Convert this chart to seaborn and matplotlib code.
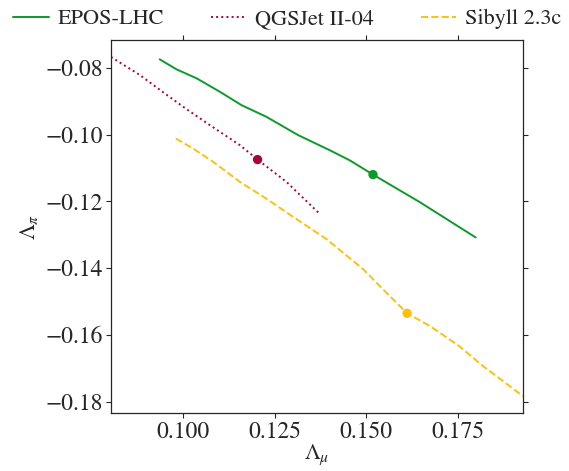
import matplotlib
matplotlib.use("Agg")
import matplotlib.pyplot as plt
import pandas as pd
import seaborn as sns

# curve values
epos_mu = [0.0936, 0.0982, 0.1037, 0.1100, 0.1159, 0.1227, 0.1314, 0.1400, 0.1454, 0.1518, 0.1645, 0.1798]
epos_pi = [-0.0775, -0.0805, -0.0832, -0.0872, -0.0912, -0.0947, -0.1002, -0.1047, -0.1077, -0.1120, -0.1202, -0.1308]

qgs_mu = [0.0803, 0.0882, 0.0941, 0.1000, 0.1073, 0.1155, 0.1203, 0.1282, 0.1373]
qgs_pi = [-0.0768, -0.0822, -0.0870, -0.0917, -0.0972, -0.1032, -0.1075, -0.1142, -0.1238]

sib_mu = [0.0980, 0.1027, 0.1082, 0.1155, 0.1227, 0.1309, 0.1391, 0.1491, 0.1545, 0.1611, 0.1673, 0.1753, 0.1818, 0.1927]
sib_pi = [-0.1012, -0.1042, -0.1082, -0.1142, -0.1192, -0.1253, -0.1313, -0.1403, -0.1463, -0.1535, -0.1573, -0.1633, -0.1693, -0.1783]

# highlighted points
models = ["EPOS-LHC", "QGSJet II-04", "Sibyll 2.3c"]
pt_mu = [0.1518, 0.1203, 0.1611]
pt_pi = [-0.1120, -0.1075, -0.1535]

colors = ["#0c9a2b", "#a5053c", "#fbc10b"]
styles = ["-", ":", "--"]

sns.set_style("ticks")
plt.rcParams["font.family"] = ["STIXGeneral", "DejaVu Serif"]
plt.rcParams["mathtext.fontset"] = "stix"

fig = plt.figure(figsize=(5.69, 4.71), dpi=100)
ax = fig.add_axes([0.195, 0.123, 0.724, 0.792])

curves = [(epos_mu, epos_pi), (qgs_mu, qgs_pi), (sib_mu, sib_pi)]
for (xs, ys), name, c, ls in zip(curves, models, colors, styles):
    df = pd.DataFrame({"mu": xs, "pi": ys})
    sns.lineplot(data=df, x="mu", y="pi", color=c, linestyle=ls, lw=1.4,
                 label=name, ax=ax, sort=False)

pts = pd.DataFrame({"mu": pt_mu, "pi": pt_pi, "model": models})
sns.scatterplot(data=pts, x="mu", y="pi", hue="model", palette=colors,
                s=45, edgecolor="none", legend=False, ax=ax, zorder=3)

ax.set_xlim(min(qgs_mu), max(sib_mu))
ax.set_xticks([0.100, 0.125, 0.150, 0.175])
ax.set_yticks([-0.08, -0.10, -0.12, -0.14, -0.16, -0.18])
ax.set_xlabel(r"$\Lambda_\mu$", fontsize=16, labelpad=0)
ax.set_ylabel(r"$\Lambda_\pi$", fontsize=16)
ax.tick_params(labelsize=17, top=True, right=True, direction="out", length=3.5, pad=2.5)
for s in ax.spines.values():
    s.set_linewidth(0.9)

handles, labels = ax.get_legend_handles_labels()
ax.legend_.remove()
fig.legend(handles, labels, loc="upper center", bbox_to_anchor=(0.505, 1.005), ncol=3,
           frameon=False, fontsize=16, columnspacing=2.1, handlelength=1.6,
           handletextpad=0.4, borderaxespad=0.1)

fig.savefig("out.png", dpi=100)
